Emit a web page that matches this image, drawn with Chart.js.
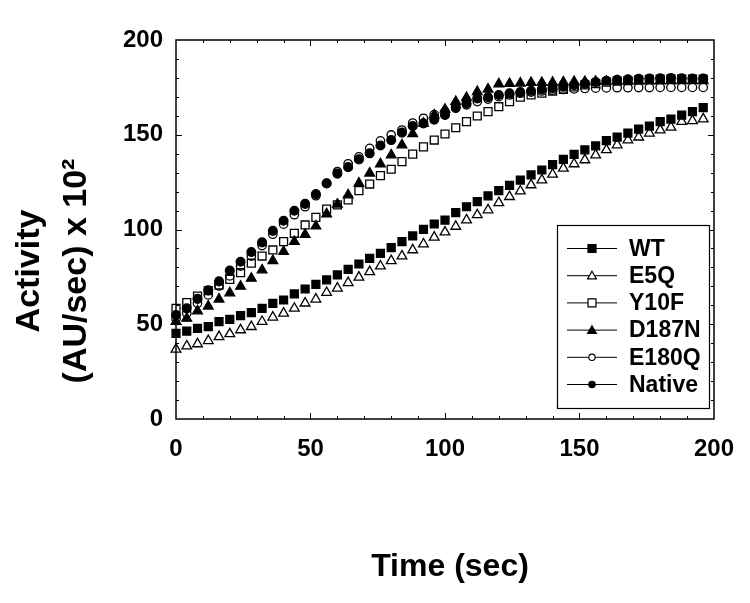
<!DOCTYPE html>
<html>
<head>
<meta charset="utf-8">
<script src="https://cdn.jsdelivr.net/npm/chart.js@4.4.1/dist/chart.umd.min.js"></script>
<style>
  html, body { margin: 0; padding: 0; background: #fff; }
  #wrap { width: 750px; height: 603px; position: relative; }
</style>
</head>
<body>
<div id="wrap"><canvas id="activityChart"></canvas></div>
<script>
// Time points (sec)
const timeSec = [0, 4, 8, 12, 16, 20, 24, 28, 32, 36, 40, 44, 48, 52, 56, 60, 64, 68, 72, 76,
                 80, 84, 88, 92, 96, 100, 104, 108, 112, 116, 120, 124, 128, 132, 136, 140, 144, 148, 152, 156,
                 160, 164, 168, 172, 176, 180, 184, 188, 192, 196];

// Activity (AU/sec x 10^2)
const wt = [45.2, 46.4, 47.8, 48.7, 51.4, 52.6, 54.5, 56.1, 58.4, 61.0,
            62.8, 66.0, 68.6, 71.1, 73.4, 76.0, 79.0, 81.8, 84.8, 87.4,
            90.4, 93.6, 96.6, 100.1, 102.9, 105.0, 108.9, 112.0, 114.7, 117.7,
            120.5, 123.3, 126.1, 128.8, 131.4, 134.2, 137.0, 139.7, 142.0, 144.1,
            146.9, 148.7, 150.8, 153.0, 154.6, 156.9, 158.3, 160.4, 162.2, 164.3];
const e5q = [36.8, 38.5, 39.6, 41.3, 43.4, 44.9, 47.0, 48.7, 51.4, 53.7,
             55.8, 58.4, 61.1, 63.2, 66.7, 69.0, 71.9, 74.8, 77.7, 80.7,
             83.5, 86.0, 89.2, 92.3, 95.9, 98.6, 101.6, 105.0, 107.7, 110.3,
             114.1, 117.3, 120.3, 123.5, 126.1, 129.1, 132.3, 134.6, 136.7, 139.3,
             142.0, 144.6, 147.2, 148.7, 150.8, 152.5, 153.9, 156.9, 157.4, 158.3];
const y10f = [58.4, 61.4, 64.9, 67.7, 70.7, 73.7, 77.2, 82.2, 86.0, 89.2,
              93.6, 98.0, 102.4, 106.4, 110.8, 113.0, 115.6, 120.5, 124.0, 128.4,
              131.8, 135.8, 139.8, 143.6, 147.2, 150.4, 153.7, 156.9, 159.9, 162.2,
              164.8, 167.5, 169.8, 171.0, 171.9, 173.0, 174.0, 175.2, 176.3, 177.0,
              177.8, 178.3, 178.6, 179.0, 179.2, 179.4, 179.5, 179.5, 179.4, 179.3];
const d187n = [51.4, 53.1, 57.0, 59.5, 63.2, 66.5, 70.0, 74.2, 78.6, 83.5,
               88.3, 93.6, 97.4, 101.8, 108.2, 113.3, 118.2, 124.4, 129.7, 134.6,
               139.3, 144.6, 150.5, 156.0, 160.4, 163.4, 167.5, 169.6, 172.7, 174.0,
               176.8, 177.0, 177.2, 177.5, 177.5, 177.6, 177.8, 178.0, 178.0, 178.2,
               178.2, 178.3, 178.3, 178.4, 178.4, 178.4, 178.5, 178.5, 178.5, 178.5];
const e180q = [52.8, 55.8, 61.1, 65.5, 70.2, 75.5, 80.7, 86.0, 91.5, 97.5,
               102.8, 107.8, 112.0, 117.8, 124.2, 130.5, 134.7, 138.3, 142.8, 146.8,
               149.9, 152.5, 156.2, 158.7, 160.6, 162.2, 164.0, 165.8, 167.5, 168.8,
               170.1, 171.0, 171.9, 172.5, 173.1, 173.5, 173.9, 174.2, 174.4, 174.6,
               174.7, 174.8, 174.8, 174.9, 174.9, 175.0, 175.0, 175.0, 175.0, 175.0];
const native = [54.9, 58.4, 63.4, 67.9, 72.6, 78.3, 83.0, 88.1, 93.2, 99.3,
                104.6, 109.9, 113.5, 118.7, 124.4, 129.5, 132.9, 137.0, 140.2, 144.3,
                147.2, 151.1, 154.6, 156.0, 158.0, 160.4, 164.6, 166.6, 169.2, 169.8,
                171.0, 171.9, 172.5, 173.2, 174.0, 174.6, 175.3, 176.2, 177.0, 177.8,
                178.5, 179.0, 179.2, 179.5, 179.6, 179.8, 179.9, 179.8, 179.7, 179.6];

const seriesNames = ['WT', 'E5Q', 'Y10F', 'D187N', 'E180Q', 'Native'];
const seriesValues = [wt, e5q, y10f, d187n, e180q, native];

const xTickValues = [0, 50, 100, 150, 200];
const yTickValues = [0, 50, 100, 150, 200];
const xTitle = 'Time (sec)';
const yTitleLines = ['Activity', '(AU/sec) x 10²'];

// marker look for each series: style, filled?, radius
const markers = [
  { style: 'rect', filled: true, r: 5.6 },
  { style: 'triangle', filled: false, r: 5.6 },
  { style: 'rect', filled: false, r: 5.6 },
  { style: 'triangle', filled: true, r: 5.6 },
  { style: 'circle', filled: false, r: 4.2 },
  { style: 'circle', filled: true, r: 4.4 }
];

const datasets = seriesNames.map((name, i) => ({
  label: name,
  data: timeSec.map((t, j) => ({ x: t, y: seriesValues[i][j] })),
  pointStyle: markers[i].style,
  pointRadius: markers[i].r,
  pointBorderWidth: 1.3,
  pointBorderColor: '#000',
  pointBackgroundColor: markers[i].filled ? '#000' : 'rgba(0,0,0,0)',
  showLine: false,
  clip: false,
  order: seriesNames.length - 1 - i   // Native on top
}));

// small marker for the legend box
function drawMarker(ctx, m, x, y, r) {
  ctx.beginPath();
  if (m.style === 'rect') {
    ctx.rect(x - r, y - r, 2 * r, 2 * r);
  } else if (m.style === 'triangle') {
    ctx.moveTo(x, y - r * 1.1);
    ctx.lineTo(x + r * 1.1, y + r * 0.8);
    ctx.lineTo(x - r * 1.1, y + r * 0.8);
    ctx.closePath();
  } else {
    ctx.arc(x, y, r * 0.8, 0, Math.PI * 2);
  }
  ctx.fillStyle = m.filled ? '#000' : '#fff';
  ctx.fill();
  ctx.lineWidth = 1.2;
  ctx.strokeStyle = '#000';
  ctx.stroke();
}

const framePlugin = {
  id: 'frame',
  beforeDatasetsDraw(chart) {
    const { ctx, chartArea: a, scales } = chart;
    ctx.save();
    ctx.strokeStyle = '#000';
    ctx.lineWidth = 1.5;
    ctx.strokeRect(a.left, a.top, a.right - a.left, a.bottom - a.top);
    ctx.lineWidth = 1;
    ctx.beginPath();
    for (let v = 10; v < 200; v += 10) {
      const len = v % 50 === 0 ? 6 : 3;
      const px = Math.round(scales.x.getPixelForValue(v)) + 0.5;
      ctx.moveTo(px, a.bottom); ctx.lineTo(px, a.bottom - len);
      ctx.moveTo(px, a.top); ctx.lineTo(px, a.top + len);
      const py = Math.round(scales.y.getPixelForValue(v)) + 0.5;
      ctx.moveTo(a.left, py); ctx.lineTo(a.left + len, py);
      ctx.moveTo(a.right, py); ctx.lineTo(a.right - len, py);
    }
    ctx.stroke();
    ctx.restore();
  },
  afterDraw(chart) {
    const { ctx } = chart;
    ctx.save();
    ctx.fillStyle = '#000';
    ctx.textAlign = 'center';
    ctx.textBaseline = 'middle';

    // axis titles
    ctx.font = 'bold 32px "Liberation Sans", Arial, sans-serif';
    ctx.fillText(xTitle, 450, 567);
    ctx.font = 'bold 34px "Liberation Sans", Arial, sans-serif';
    ctx.translate(0, 271);
    ctx.rotate(-Math.PI / 2);
    ctx.fillText(yTitleLines[0], 0, 30);
    ctx.fillText(yTitleLines[1], 0, 77);
    ctx.restore();

    // legend box
    ctx.save();
    ctx.fillStyle = '#fff';
    ctx.fillRect(557, 225, 152, 183);
    ctx.strokeStyle = '#000';
    ctx.lineWidth = 1.2;
    ctx.strokeRect(557.5, 225.5, 152, 183);
    ctx.font = 'bold 23px "Liberation Sans", Arial, sans-serif';
    ctx.textAlign = 'left';
    ctx.textBaseline = 'middle';
    seriesNames.forEach((name, i) => {
      const y = 248.5 + i * 27.2;
      ctx.beginPath();
      ctx.lineWidth = 1;
      ctx.strokeStyle = '#000';
      ctx.moveTo(567, y); ctx.lineTo(617, y);
      ctx.stroke();
      drawMarker(ctx, markers[i], 592, y, 4);
      ctx.fillStyle = '#000';
      ctx.fillText(name, 629, y + 1);
    });
    ctx.restore();
  }
};

const ctx = document.getElementById('activityChart').getContext('2d');
const activityChart = new Chart(ctx, {
  type: 'scatter',
  data: { datasets: datasets },
  options: {
    responsive: true,
    maintainAspectRatio: false,
    animation: false,
    layout: { padding: { top: 40, right: 32, left: 0, bottom: 0 } },
    plugins: {
      legend: { display: false },
      tooltip: { enabled: false }
    },
    scales: {
      x: {
        type: 'linear',
        min: 0,
        max: 200,
        afterBuildTicks: (scale) => { scale.ticks = xTickValues.map(v => ({ value: v })); },
        afterFit: (scale) => { scale.height = 184; },
        grid: { display: false, drawTicks: false },
        border: { display: false },
        ticks: {
          color: '#000',
          padding: 16,
          maxRotation: 0,
          font: { family: '"Liberation Sans", Arial, sans-serif', size: 24, weight: 'bold' }
        }
      },
      y: {
        type: 'linear',
        min: 0,
        max: 200,
        afterBuildTicks: (scale) => { scale.ticks = yTickValues.map(v => ({ value: v })); },
        afterFit: (scale) => { scale.width = 176; },
        grid: { display: false, drawTicks: false },
        border: { display: false },
        ticks: {
          color: '#000',
          padding: 13,
          font: { family: '"Liberation Sans", Arial, sans-serif', size: 24, weight: 'bold' }
        }
      }
    }
  },
  plugins: [framePlugin]
});
</script>
</body>
</html>
